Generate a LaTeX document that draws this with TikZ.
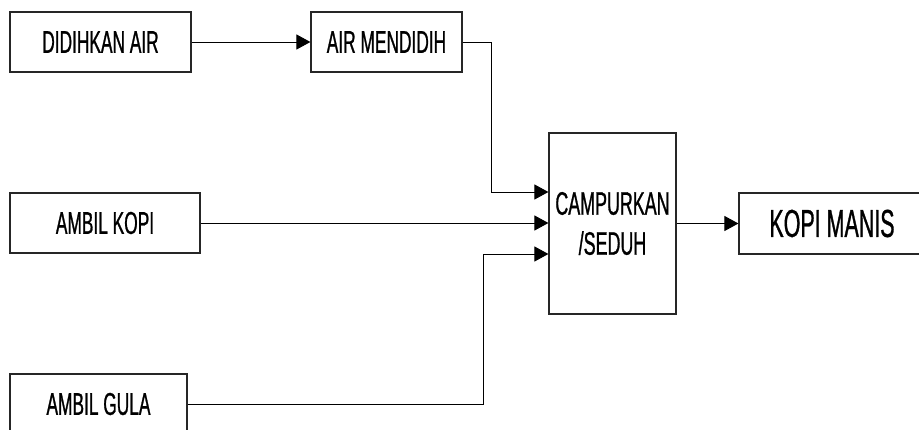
\documentclass[tikz,border=0pt]{standalone}
\usepackage{fontspec}
\setmainfont{Liberation Sans}[FakeStretch=0.55,FakeBold=0.8]
\usetikzlibrary{arrows.meta,positioning,calc}

\begin{document}
\begin{tikzpicture}[x=1pt,y=-1pt,>={Triangle[length=14pt,width=15pt]},
  line width=1pt,
  proc/.style={draw=black!85,line width=1.2pt,minimum height=60pt,inner sep=0pt,align=center,
    font=\fontsize{31.5}{34}\selectfont},
  flow/.style={->,black}]
\useasboundingbox (0,0) rectangle (919,429);
\clip (0,0) rectangle (919,429);

%% boxes
\node[proc,minimum width=181pt] (didih) at (100.5,42) {DIDIHKAN AIR};
\node[proc,minimum width=151pt] (mendidih) at (386.5,42) {AIR MENDIDIH};
\node[proc,minimum width=190pt] (kopi) at (105,223) {AMBIL KOPI};
\node[proc,minimum width=177pt] (gula) at (98.5,404) {AMBIL GULA};
\node[proc,minimum width=127pt,minimum height=181pt,font=\fontsize{32.5}{40}\selectfont] (campur) at (612.5,223.5) {CAMPURKAN\\/SEDUH};
\node[proc,minimum width=186pt,minimum height=61pt,font=\fontsize{39}{42}\selectfont] (manis) at (832,223.5) {KOPI MANIS};

%% inlets of campur
\coordinate (in1) at ($(campur.west)+(0,-31.5)$);
\coordinate (in3) at ($(campur.west)+(0,30.5)$);

%% arrows
\draw[flow] (didih.east) -- (mendidih.west);
\draw[flow] (mendidih.east) -- ++(29,0) |- (in1);
\draw[flow] (kopi.east) -- (kopi.east -| campur.west);
\draw[flow] (gula.east) -- ++(296,0) |- (in3);
\draw[flow] (campur.east) -- (manis.west);
\end{tikzpicture}
\end{document}
